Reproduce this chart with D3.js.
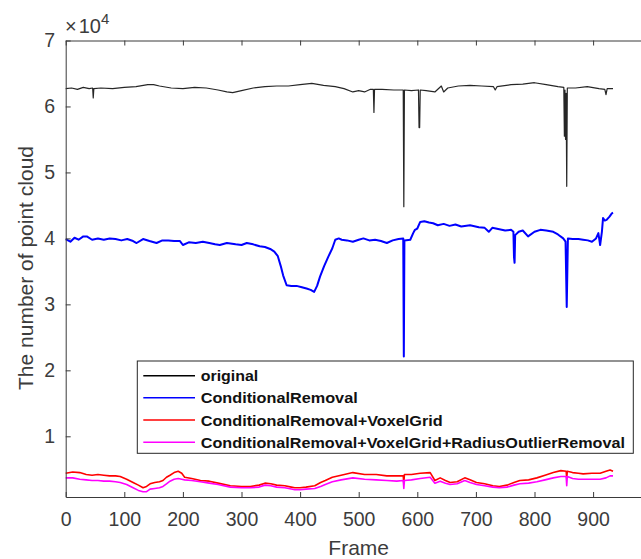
<!DOCTYPE html>
<html>
<head>
<meta charset="utf-8">
<script src="https://cdn.jsdelivr.net/npm/d3@7"></script>
<style>
  body { margin: 0; background: #fff; }
  svg { display: block; font-family: "Liberation Sans", Arial, sans-serif; }
</style>
</head>
<body>
<svg id="chart" width="641" height="559"></svg>
<script>
// frame, number of points
var original = [[0,62700],[10,62800],[20,62600],[30,62900],[40,62700],[46,62800],[47,61300],[48,62700],[60,62800],[80,62700],[100,62900],[120,63000],[140,63300],[150,63300],[160,63100],[180,62800],[200,62700],[220,62900],[240,62800],[260,62500],[275,62200],[285,62100],[300,62400],[320,62800],[340,63000],[360,63100],[380,63100],[400,63300],[420,63500],[440,63200],[460,63000],[475,62700],[490,62200],[500,62400],[510,62200],[520,62600],[525,62600],[526,59100],[527,62600],[540,62600],[560,62500],[576,62500],[577,44800],[578,62500],[590,62400],[602,62500],[603,56800],[604,56800],[605,62500],[615,62400],[630,62200],[641,63100],[645,62200],[652,62800],[670,63100],[690,63200],[710,63100],[730,63000],[733,62500],[736,63000],[760,63300],[780,63400],[800,63600],[820,63300],[840,63000],[850,62900],[851,55500],[852,62500],[853,55000],[854,62000],[855,47900],[856,62800],[870,62800],[890,63000],[910,62700],[920,62600],[922,61800],[924,62700],[934,62700]];

var conditional = [[0,39900],[8,39500],[15,40100],[22,39800],[30,40300],[36,40300],[45,39800],[55,40000],[65,39800],[75,40000],[85,39900],[95,39700],[105,39900],[115,39600],[121,39300],[132,39900],[143,39600],[155,39300],[165,39700],[175,39700],[185,39600],[195,39600],[200,39000],[210,39400],[222,39300],[234,39500],[245,39300],[255,39100],[263,39000],[275,39300],[290,39100],[300,39000],[309,39300],[320,39100],[331,38800],[340,38700],[349,38400],[356,38000],[362,37300],[367,35800],[371,34400],[377,32900],[385,32800],[394,32800],[403,32600],[411,32400],[418,32200],[424,31900],[429,32800],[434,34200],[441,35800],[448,37200],[455,38500],[460,39800],[466,40000],[471,39800],[480,39700],[490,39500],[500,39800],[508,40000],[518,39700],[528,39800],[538,39600],[548,39300],[558,39700],[568,39900],[576,40000],[577,22100],[578,39700],[588,39800],[593,40800],[596,41300],[600,41500],[605,42500],[612,42600],[620,42400],[627,42300],[635,42000],[645,42200],[655,41900],[665,42100],[675,41800],[690,42000],[705,41700],[715,41600],[722,41000],[728,41600],[740,41400],[750,41200],[760,41300],[764,41000],[765,37200],[766,36300],[767,40500],[773,41000],[780,41200],[789,40300],[800,41000],[810,41300],[820,41200],[832,41000],[840,40600],[849,40000],[853,39500],[855,29600],[857,40000],[865,39900],[875,39900],[883,39800],[891,39700],[898,39500],[905,40000],[909,40800],[912,39000],[915,41000],[917,43100],[920,42700],[923,42800],[928,43300],[932,43800],[934,43900]];

var voxelGrid = [[0,4400],[12,4600],[24,4500],[35,4200],[45,4100],[55,4200],[65,4100],[75,4000],[85,4000],[93,3900],[104,3500],[115,3000],[124,2600],[132,2200],[138,2400],[144,2800],[152,3000],[160,3100],[166,3300],[172,3800],[178,4100],[185,4500],[192,4700],[198,4400],[203,3800],[215,3600],[230,3300],[245,3200],[260,2900],[281,2500],[300,2400],[315,2400],[330,2600],[340,2900],[350,2800],[360,2600],[374,2500],[385,2300],[391,2200],[400,2200],[410,2300],[425,2500],[435,3000],[443,3300],[455,3800],[470,4100],[490,4500],[510,4200],[530,4200],[548,4000],[565,4000],[576,4000],[577,2800],[578,4200],[590,4200],[605,4400],[622,4500],[630,3300],[639,3700],[648,3300],[656,3000],[668,3100],[681,3700],[690,3400],[701,3000],[715,2800],[729,2500],[740,2400],[753,2600],[765,3000],[775,3300],[790,3400],[804,3700],[818,4100],[832,4500],[845,4800],[854,4700],[855,3600],[856,4700],[865,4500],[875,4400],[883,4300],[898,4400],[912,4400],[922,4700],[929,4900],[934,4700]];

var radiusOutlier = [[0,3700],[12,3700],[24,3500],[35,3400],[45,3300],[55,3300],[65,3200],[75,3200],[85,3100],[93,3000],[104,2700],[115,2200],[124,1800],[132,1600],[138,1600],[144,2000],[152,2100],[160,2200],[166,2400],[172,2800],[178,3200],[185,3500],[192,3600],[198,3500],[203,3400],[215,3300],[230,3100],[245,2900],[260,2700],[281,2300],[300,2200],[315,2200],[330,2300],[340,2600],[350,2500],[360,2300],[374,2200],[385,2000],[391,1900],[400,1900],[410,2000],[425,2100],[435,2400],[443,2700],[455,3100],[470,3400],[490,3700],[510,3500],[530,3400],[548,3300],[565,3200],[576,3300],[577,2100],[578,3300],[590,3400],[605,3600],[622,3800],[630,2900],[639,3200],[648,2900],[656,2700],[668,2800],[681,3300],[690,3000],[701,2700],[715,2500],[729,2300],[740,2200],[753,2300],[765,2600],[775,2800],[790,2900],[804,3100],[818,3400],[832,3700],[845,3900],[854,3900],[855,2500],[856,3900],[865,3600],[875,3500],[883,3500],[898,3500],[912,3500],[922,3700],[929,4000],[934,4000]];

var seriesNames = ["original", "ConditionalRemoval", "ConditionalRemoval+VoxelGrid", "ConditionalRemoval+VoxelGrid+RadiusOutlierRemoval"];
var seriesColors = ["#000000", "#0000ff", "#ff0000", "#ff00ff"];
var xTicks = [0, 100, 200, 300, 400, 500, 600, 700, 800, 900];
var yTicks = [10000, 20000, 30000, 40000, 50000, 60000, 70000];

var svg = d3.select("#chart");
var axisColor = "#3a3a3a";

var margin = {left: 65.7, right: 651.7, top: 40.5, bottom: 497};

var x = d3.scaleLinear().domain([0, 1000]).range([margin.left, margin.right]);
var y = d3.scaleLinear().domain([800, 70000]).range([margin.bottom, margin.top]);

var line = d3.line()
    .x(d => x(d[0]))
    .y(d => y(d[1]));

var allSeries = [original, conditional, voxelGrid, radiusOutlier];
var widths = [1.2, 2, 1.6, 1.6];

allSeries.forEach(function(s, i) {
    svg.append("path")
       .datum(s)
       .attr("fill", "none")
       .attr("stroke", seriesColors[i])
       .attr("stroke-width", widths[i])
       .attr("stroke-linejoin", "round")
       .attr("opacity", i == 0 ? 0.85 : 1)
       .attr("d", line);
});

// bottom axis
var xAxis = d3.axisBottom(x).tickValues(xTicks).tickSizeInner(-5).tickSizeOuter(0).tickPadding(15);
var gx = svg.append("g").attr("transform", `translate(0,${margin.bottom})`).call(xAxis);

// top axis (ticks only)
var gt = svg.append("g").attr("transform", `translate(0,${margin.top})`)
    .call(d3.axisTop(x).tickValues(xTicks).tickSizeInner(-5).tickSizeOuter(0).tickFormat(""));

// left axis
var yAxis = d3.axisLeft(y).tickValues(yTicks).tickSizeInner(-5).tickSizeOuter(0).tickPadding(10.5)
    .tickFormat(d => d / 10000);
var gy = svg.append("g").attr("transform", `translate(${margin.left},0)`).call(yAxis);

[gx, gt, gy].forEach(function(g) {
    g.select(".domain").attr("stroke", axisColor).attr("stroke-width", 1);
    g.selectAll(".tick line").attr("stroke", axisColor).attr("stroke-width", 1);
    g.selectAll(".tick text").attr("fill", "#3c3c3c")
        .style("font-size", "19.5px")
        .style("font-family", '"Liberation Sans", Arial, sans-serif');
});

// exponent
var ex = svg.append("text").attr("x", 65).attr("y", 32.7).attr("fill", "#3c3c3c")
    .style("font-size", "20px");
ex.append("tspan").text("\u00d7");
ex.append("tspan").attr("dx", 2).text("10");
ex.append("tspan").attr("dy", -9).style("font-size", "15px").text("4");

// axis labels
svg.append("text")
   .attr("x", (margin.left + margin.right) / 2).attr("y", 555)
   .attr("text-anchor", "middle").attr("fill", "#3c3c3c")
   .style("font-size", "21px").text("Frame");

svg.append("text")
   .attr("transform", "translate(33.3,268) rotate(-90)")
   .attr("text-anchor", "middle").attr("fill", "#3c3c3c")
   .style("font-size", "21px").text("The number of point cloud");

// legend
var legend = svg.append("g");
legend.append("rect")
    .attr("x", 137.3).attr("y", 361).attr("width", 496).attr("height", 92.3)
    .attr("fill", "#fff").attr("stroke", "#262626").attr("stroke-width", 1);

var rowY = [375.7, 397.7, 420, 442.3];
var textLen = [57.6, 157, 242, 424.3];
seriesNames.forEach(function(name, i) {
    legend.append("line")
        .attr("x1", 143.3).attr("x2", 195)
        .attr("y1", rowY[i]).attr("y2", rowY[i])
        .attr("stroke", seriesColors[i]).attr("stroke-width", 1.4);
    legend.append("text")
        .attr("x", 200.7).attr("y", rowY[i] + 5.5)
        .attr("fill", "#111")
        .attr("textLength", textLen[i]).attr("lengthAdjust", "spacingAndGlyphs")
        .style("font-size", "15.5px").style("font-weight", "bold")
        .text(name);
});
</script>
</body>
</html>
